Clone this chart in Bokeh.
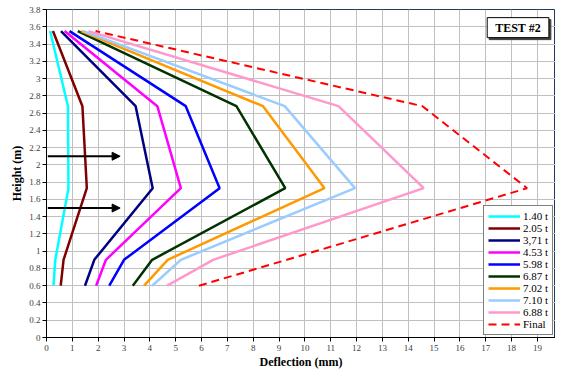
from bokeh.plotting import figure
from bokeh.models import (Range1d, FixedTicker, NumeralTickFormatter, Legend, LegendItem,
                          Label, Arrow, NormalHead)
from bokeh.embed import file_html
from bokeh.resources import INLINE

# ---- data ----
heights = [0.6, 0.9, 1.73, 2.68, 3.55]
series_names = ["1.40 t", "2.05 t", "3,71 t", "4.53 t", "5.98 t", "6.87 t",
                "7.02 t", "7.10 t", "6.88 t", "Final"]
defl_140 = [0.27, 0.34, 0.85, 0.83, 0.14]
defl_205 = [0.55, 0.66, 1.56, 1.39, 0.25]
defl_371 = [1.49, 1.85, 4.11, 3.45, 0.56]
defl_453 = [1.92, 2.30, 5.20, 4.29, 0.70]
defl_598 = [2.43, 3.00, 6.70, 5.39, 0.89]
defl_687 = [3.34, 4.09, 9.24, 7.35, 1.21]
defl_702 = [3.78, 4.69, 10.76, 8.38, 1.34]
defl_710 = [4.09, 5.20, 11.94, 9.22, 1.43]
defl_688 = [4.67, 6.45, 14.60, 11.30, 1.62]
defl_final = [5.90, 9.30, 18.60, 14.55, 1.90]
series_values = [defl_140, defl_205, defl_371, defl_453, defl_598, defl_687,
                 defl_702, defl_710, defl_688, defl_final]
colors = ["#00ffff", "#800000", "#000080", "#ff00ff", "#0000ff", "#003300",
          "#ff9900", "#99ccff", "#ff99cc", "#ff0000"]
arrow_heights = [2.1, 1.5]
arrow_x_start = [0.05, 0.05]
arrow_x_end = [2.85, 2.85]
x_ticks = list(range(0, 21))
y_ticks = [round(i * 0.2, 1) for i in range(0, 20)]
title_text = "TEST #2"
x_title = "Deflection (mm)"
y_title = "Height (m)"

FONT = "Liberation Serif"

p = figure(width=555, height=373, output_backend="svg", toolbar_location=None,
           x_range=Range1d(0, 19.7), y_range=Range1d(0, 3.8),
           min_border_left=46, min_border_right=0, min_border_top=9, min_border_bottom=36)
p.background_fill_color = "white"
p.border_fill_color = "white"
p.outline_line_color = "#1f3a60"
p.outline_line_width = 1

for ax in (p.xaxis[0], p.yaxis[0]):
    ax.axis_line_color = "black"
    ax.axis_line_width = 1
    ax.major_tick_line_color = "black"
    ax.major_tick_out = 4
    ax.major_tick_in = 0
    ax.minor_tick_line_color = None
    ax.major_label_text_font = FONT
    ax.major_label_text_font_size = "9px"
    ax.major_label_text_color = "#404040"
    ax.axis_label_text_font = FONT
    ax.axis_label_text_font_size = "12px"
    ax.axis_label_text_font_style = "bold"
    ax.axis_label_text_color = "black"

p.xaxis.ticker = FixedTicker(ticks=x_ticks)
p.yaxis.ticker = FixedTicker(ticks=y_ticks)
p.yaxis.formatter = NumeralTickFormatter(format="0.[0]")
p.xaxis.axis_label = x_title
p.yaxis.axis_label = y_title
p.xaxis.major_label_standoff = 3
p.xaxis.axis_label_standoff = 1
p.yaxis.major_label_standoff = 2
p.yaxis.axis_label_standoff = 2

p.xgrid.grid_line_color = "#c0c0c0"
p.ygrid.grid_line_color = "#c0c0c0"
p.xgrid.grid_line_width = 1
p.ygrid.grid_line_width = 1

items = []
for name, vals, col in zip(series_names, series_values, colors):
    if name == "Final":
        r = p.line(vals, heights, line_color=col, line_width=2, line_dash="8 5")
    else:
        r = p.line(vals, heights, line_color=col, line_width=2.5)
    items.append(LegendItem(label=name, renderers=[r]))

for yh, xs, xe in zip(arrow_heights, arrow_x_start, arrow_x_end):
    p.add_layout(Arrow(x_start=xs, y_start=yh, x_end=xe, y_end=yh, line_color="black",
                       line_width=2,
                       end=NormalHead(size=8, fill_color="black", line_color="black")))

legend = Legend(items=items, location=(437, 2))
legend.label_text_font = FONT
legend.label_text_font_size = "11px"
legend.label_text_color = "black"
legend.label_height = 12
legend.glyph_height = 12
legend.glyph_width = 32
legend.label_standoff = 3
legend.spacing = 0
legend.padding = 4
legend.margin = 0
legend.border_line_color = "black"
legend.border_line_width = 1
legend.background_fill_color = "white"
legend.background_fill_alpha = 1
p.add_layout(legend, "center")

shadow = Label(x=18.25, y=3.59, text=title_text, text_align="center", text_baseline="middle",
               x_offset=2, y_offset=-2, text_font=FONT, text_font_size="12px",
               text_font_style="bold", text_color="#404040", padding=(8, 3),
               background_fill_color="#404040", border_line_color="#404040")
p.add_layout(shadow)
title_lbl = Label(x=18.25, y=3.59, text=title_text, text_align="center", text_baseline="middle",
                  text_font=FONT, text_font_size="12px", text_font_style="bold",
                  text_color="black", padding=(8, 3), background_fill_color="white",
                  border_line_color="black", border_line_width=1)
p.add_layout(title_lbl)

open("out.html", "w").write(file_html(p, INLINE))
